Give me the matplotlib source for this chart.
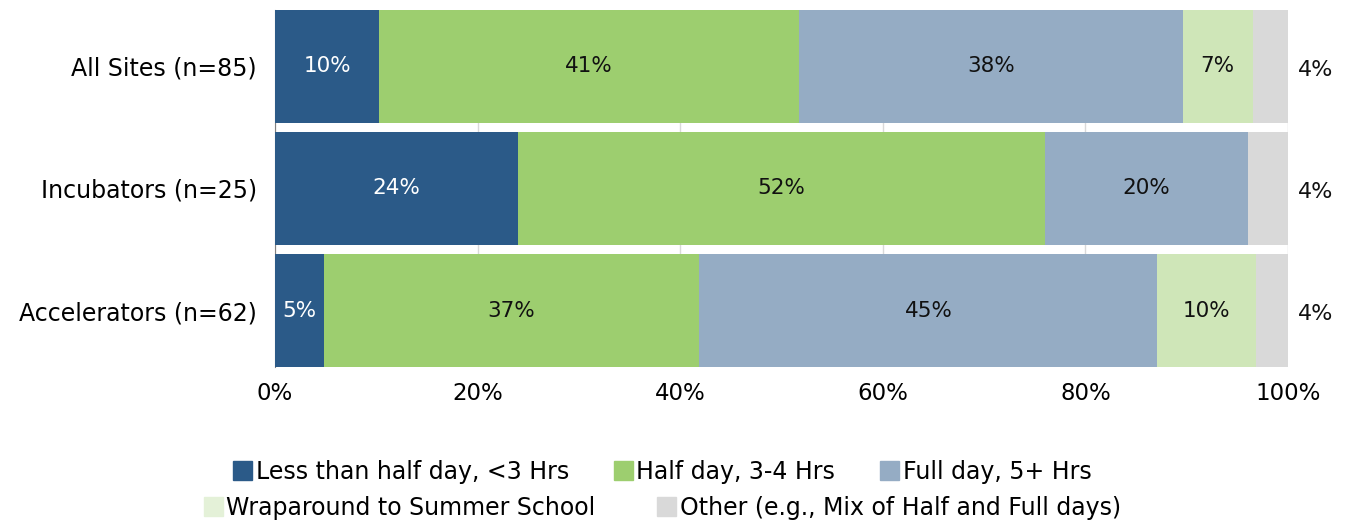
import matplotlib.pyplot as plt
import numpy as np
from matplotlib.patches import Patch

plt.rcParams['font.family'] = ['DejaVu Sans']

categories = ['All Sites (n=85)', 'Incubators (n=25)', 'Accelerators (n=62)']
series_names = ['Less than half day, <3 Hrs', 'Half day, 3-4 Hrs', 'Full day, 5+ Hrs',
                'Wraparound to Summer School', 'Other (e.g., Mix of Half and Full days)']
less_half = [10.3, 24.0, 4.8]
half_day = [41.4, 52.0, 37.1]
full_day = [37.9, 20.0, 45.2]
wraparound = [6.9, 0.0, 9.7]
other = [3.5, 4.0, 3.2]
less_half_lbl = ['10%', '24%', '5%']
half_day_lbl = ['41%', '52%', '37%']
full_day_lbl = ['38%', '20%', '45%']
wraparound_lbl = ['7%', '', '10%']
other_lbl = ['4%', '4%', '4%']

colors = ['#2B5A88', '#9DCE6F', '#95ACC4', '#CFE6B8', '#D9D9D9']
legend_colors = ['#2B5A88', '#9DCE6F', '#95ACC4', '#E4F1D8', '#D9D9D9']
text_colors = ['white', '#111111', '#111111', '#111111', '#111111']

fig = plt.figure(figsize=(13.49, 5.22), dpi=100)
ax = fig.add_axes([0.2039, 0.297, 0.7509, 0.684])

y = np.arange(len(categories))
data = [less_half, half_day, full_day, wraparound, other]
labels = [less_half_lbl, half_day_lbl, full_day_lbl, wraparound_lbl, other_lbl]
left = np.zeros(len(categories))
for k, vals in enumerate(data):
    vals = np.array(vals)
    ax.barh(y, vals, left=left, height=0.925, color=colors[k], zorder=3)
    for i in range(len(categories)):
        if labels[k][i] == '':
            continue
        if k == 4:
            ax.text(102.7, y[i] + 0.03, labels[k][i], ha='center', va='center',
                    fontsize=16, color='#111111', clip_on=False)
        else:
            ax.text(left[i] + vals[i] / 2, y[i], labels[k][i], ha='center', va='center',
                    fontsize=15.5, color=text_colors[k], zorder=4)
    left = left + vals

ax.set_xlim(0, 100)
ax.set_ylim(2.4625, -0.4625)
ax.set_yticks(y)
ax.set_yticklabels(categories, fontsize=17)
ax.set_xticks([0, 20, 40, 60, 80, 100])
ax.set_xticklabels(['0%', '20%', '40%', '60%', '80%', '100%'], fontsize=16.5)
ax.tick_params(axis='y', length=0, pad=13)
ax.tick_params(axis='x', length=0, pad=11)
ax.grid(axis='x', color='#D9D9D9', linewidth=1, zorder=0)
for s in ['top', 'right', 'bottom']:
    ax.spines[s].set_visible(False)
ax.spines['left'].set_color('#808080')

h1 = [Patch(color=legend_colors[k]) for k in range(3)]
h2 = [Patch(color=legend_colors[k]) for k in range(3, 5)]
fig.legend(h1, series_names[:3], loc='center', bbox_to_anchor=(0.491, 0.096), ncol=3,
           frameon=False, fontsize=17, handlelength=0.8, handleheight=0.85,
           handletextpad=0.15, columnspacing=1.9)
fig.legend(h2, series_names[3:], loc='center', bbox_to_anchor=(0.491, 0.027), ncol=2,
           frameon=False, fontsize=17, handlelength=0.8, handleheight=0.85,
           handletextpad=0.15, columnspacing=2.6)

fig.savefig('out.png', dpi=100)
